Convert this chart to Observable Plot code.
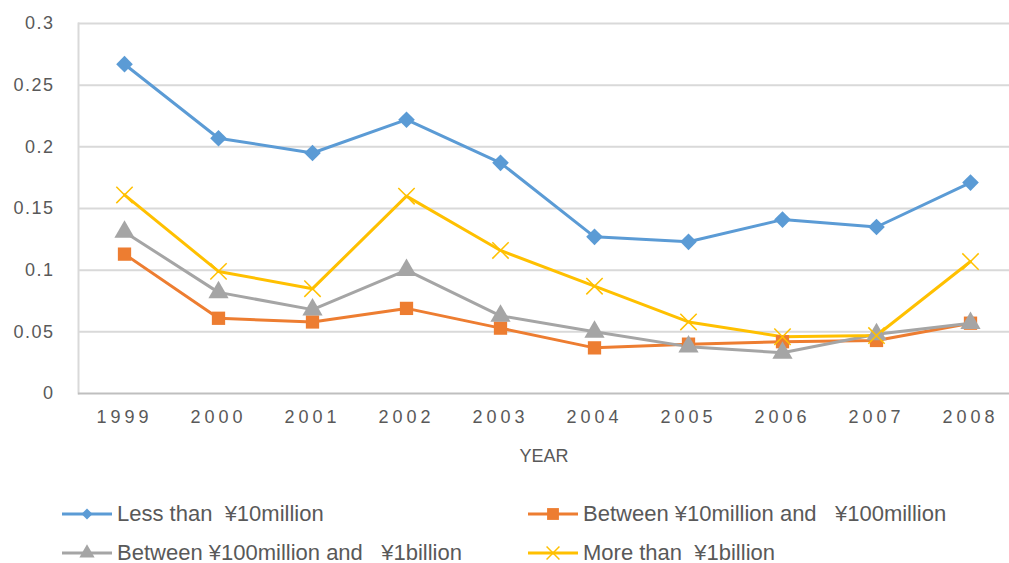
<!DOCTYPE html>
<html>
<head>
<meta charset="utf-8">
<script src="https://cdn.jsdelivr.net/npm/d3@7"></script>
<script src="https://cdn.jsdelivr.net/npm/@observablehq/plot@0.6"></script>
<style>
  html, body { margin: 0; padding: 0; background: #fff; }
  body { width: 1009px; height: 563px; overflow: hidden; font-family: "Liberation Sans", Arial, Helvetica, sans-serif; }
  #legend { position: absolute; left: 0; top: 470px; width: 1009px; height: 93px; }
  .item { position: absolute; display: flex; align-items: center; font-size: 22px; color: #595959; white-space: pre; }
  .item svg { margin-right: 3px; }
</style>
</head>
<body>
<div id="chart"></div>
<div id="legend"></div>
<script>
const years = [1999, 2000, 2001, 2002, 2003, 2004, 2005, 2006, 2007, 2008];
const lessThan10m   = [0.267, 0.207, 0.195, 0.222, 0.187, 0.127, 0.123, 0.141, 0.135, 0.171];
const between10m100m = [0.113, 0.061, 0.058, 0.069, 0.053, 0.037, 0.040, 0.042, 0.043, 0.057];
const between100m1b  = [0.131, 0.082, 0.068, 0.100, 0.063, 0.050, 0.038, 0.033, 0.048, 0.057];
const moreThan1b     = [0.161, 0.099, 0.085, 0.160, 0.116, 0.087, 0.058, 0.046, 0.047, 0.107];
const yTicks = [0, 0.05, 0.1, 0.15, 0.2, 0.25, 0.3];
const seriesNames = [
  "Less than  \u00A510million",
  "Between \u00A510million and   \u00A5100million",
  "Between \u00A5100million and   \u00A51billion",
  "More than  \u00A51billion"
];
const seriesValues = [lessThan10m, between10m100m, between100m1b, moreThan1b];
const seriesColors = ["#5B9BD5", "#ED7D31", "#A5A5A5", "#FFC000"];
const seriesSymbols = ["diamond2", "square", "triangle", "times"];

const rows = seriesNames.flatMap((s, i) => years.map((y, j) => ({series: s, year: y, value: seriesValues[i][j]})));

const chart = Plot.plot({
  width: 1009,
  height: 470,
  marginLeft: 78,
  marginRight: 0,
  marginTop: 23,
  marginBottom: 77,
  style: {fontFamily: "'Liberation Sans', Arial, Helvetica, sans-serif", color: "#595959", background: "#fff"},
  x: {type: "point", domain: years, range: [123, 970], padding: 0},
  y: {domain: [0, 0.3]},
  color: {domain: seriesNames, range: seriesColors},
  symbol: {domain: seriesNames, range: seriesSymbols},
  marks: [
    Plot.ruleY(yTicks.filter(d => d > 0), {stroke: "#d9d9d9", strokeWidth: 2}),
    Plot.frame({anchor: "left", stroke: "#d9d9d9", strokeWidth: 2}),
    Plot.ruleY([0], {stroke: "#bfbfbf", strokeWidth: 2}),
    Plot.axisY({ticks: yTicks, tickSize: 0, tickPadding: 24, fontSize: 18, label: null,
      tickFormat: d => String(+d.toFixed(2))}),
    Plot.axisX({tickSize: 0, tickPadding: 17, fontSize: 18, tickFormat: d => String(d),
      label: "YEAR", labelAnchor: "center", labelOffset: 68, labelArrow: "none"}),
    Plot.line(rows, {x: "year", y: "value", z: "series", stroke: "series", strokeWidth: 3}),
    Plot.dot(rows.filter(d => d.series !== seriesNames[3]), {x: "year", y: "value", fill: "series", symbol: "series", r: 7.5, stroke: "none"}),
    Plot.dot(rows.filter(d => d.series === seriesNames[3]), {x: "year", y: "value", stroke: "series", symbol: "series", r: 7.5, strokeWidth: 1.5})
  ]
});
chart.querySelectorAll("text").forEach(t => {
  const s = t.textContent;
  if (/^\d{4}$/.test(s)) t.setAttribute("letter-spacing", "4");
  else if (/^0/.test(s)) t.setAttribute("letter-spacing", "1.5");
});
document.getElementById("chart").append(chart);

// legend
const legend = d3.select("#legend");
const pos = [[62, 44], [528, 44], [62, 83], [528, 83]];
const symPaths = [
  d3.symbol(d3.symbolSquare, 60)(),
  d3.symbol(d3.symbolSquare, 140)(),
  d3.symbol(d3.symbolTriangle, 100)(),
  d3.symbol(d3.symbolTimes, 110)()
];
seriesNames.forEach((name, i) => {
  const item = legend.append("div").attr("class", "item")
    .style("left", pos[i][0] + "px").style("top", (pos[i][1] - 12) + "px").style("height", "24px");
  const svg = item.append("svg").attr("width", 52).attr("height", 24);
  svg.append("line").attr("x1", 0).attr("x2", 50).attr("y1", 12).attr("y2", 12)
    .attr("stroke", seriesColors[i]).attr("stroke-width", 3);
  const p = svg.append("path").attr("d", symPaths[i]).attr("transform", `translate(25,12)${i === 0 ? " rotate(45)" : ""}`);
  if (i === 3) p.attr("fill", "none").attr("stroke", seriesColors[i]).attr("stroke-width", 1.5);
  else p.attr("fill", seriesColors[i]);
  item.append("span").text(name);
});
</script>
</body>
</html>
